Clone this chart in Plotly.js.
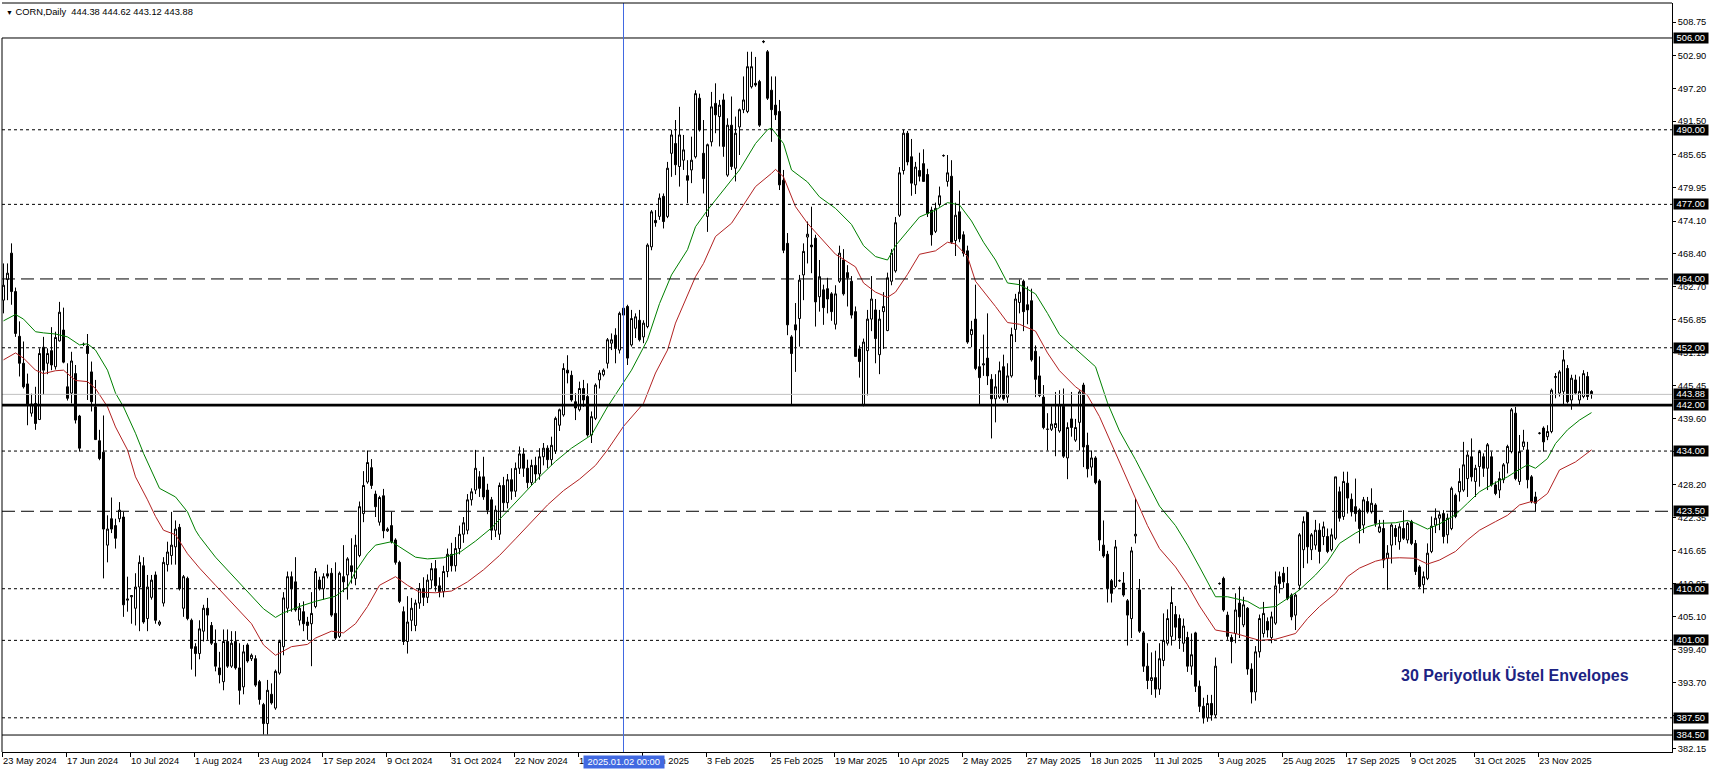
<!DOCTYPE html>
<html><head><meta charset="utf-8">
<script src="https://cdn.plot.ly/plotly-3.0.1.min.js"></script>
<style>html,body{margin:0;padding:0;background:#fff;}#chart{width:1712px;height:773px;}</style>
</head><body><div id="chart"></div>
<script>
// ---- data ----
const dateLabels = ["23 May 2024","17 Jun 2024","10 Jul 2024","1 Aug 2024","23 Aug 2024","17 Sep 2024","9 Oct 2024","31 Oct 2024","22 Nov 2024","16 Dec 2024","9 Jan 2025","3 Feb 2025","25 Feb 2025","19 Mar 2025","10 Apr 2025","2 May 2025","27 May 2025","18 Jun 2025","11 Jul 2025","3 Aug 2025","25 Aug 2025","17 Sep 2025","9 Oct 2025","31 Oct 2025","23 Nov 2025"];

const openP = [
460.3,463.9,468.5,461.8,454.0,449.3,445.7,440.6,442.3,439.5,
452.1,449.3,451.5,448.7,453.2,455.1,445.2,444.1,447.5,440.1,
452.6,452.3,447.8,441.7,435.8,433.8,417.6,422.2,421.0,422.2,
422.5,408.0,408.6,406.6,410.3,414.0,404.8,408.5,412.4,403.8,
407.5,414.2,415.8,417.3,420.7,406.6,411.8,404.5,399.9,398.7,
402.6,406.6,403.6,400.5,396.2,393.8,400.8,396.5,400.8,396.2,
392.9,400.2,397.8,397.8,393.8,389.8,386.5,391.6,389.2,395.3,
399.9,406.6,412.1,411.2,404.5,406.0,404.2,403.9,406.9,411.5,
410.0,412.6,412.7,405.7,401.7,412.1,412.4,414.0,411.8,415.8,
423.1,428.6,431.1,426.5,421.6,426.2,420.1,421.0,418.5,414.6,
406.0,400.8,404.5,403.6,407.5,410.0,408.5,411.5,413.5,410.5,
409.5,413.0,416.0,414.0,417.0,419.5,420.2,425.5,427.2,429.5,
429.5,427.2,425.5,420.2,419.5,428.0,425.0,429.0,427.0,431.0,
433.5,431.0,428.5,431.5,430.0,433.0,434.5,432.5,434.0,438.5,
440.3,448.1,447.2,442.6,441.2,444.9,443.5,436.8,439.7,446.4,
447.3,449.3,452.8,454.2,451.6,457.7,459.2,452.5,455.4,456.8,
453.9,455.7,469.6,474.2,474.9,478.4,474.9,485.9,487.6,483.6,
484.7,482.0,483.0,485.3,495.5,485.9,474.9,487.9,494.6,492.3,
495.2,482.1,490.8,483.3,490.5,493.5,493.2,497.5,498.1,498.4,
505.3,503.6,496.9,494.3,493.2,481.2,470.2,453.9,456.0,457.1,
464.7,471.3,469.9,471.1,460.9,462.1,462.3,461.4,456.1,463.6,
467.3,465.1,463.6,458.3,451.8,442.1,451.5,457.0,458.6,450.8,
458.3,455.0,463.6,465.4,475.1,482.9,489.4,485.3,480.4,482.9,
484.1,482.2,476.0,472.3,477.0,485.5,481.0,481.9,470.7,475.7,
471.7,468.9,454.3,457.0,448.7,449.0,450.2,446.5,443.1,443.4,
448.7,443.4,447.1,455.2,459.9,463.6,459.5,460.2,451.4,447.1,
443.4,437.8,437.8,438.1,437.5,441.8,432.8,439.6,435.9,439.0,
445.5,435.0,431.2,432.8,428.8,417.6,416.0,411.4,410.4,411.4,
411.0,407.9,404.8,419.2,409.8,402.3,396.5,394.0,394.5,392.5,
397.5,400.5,401.7,405.5,404.8,400.5,401.5,396.5,402.3,393.0,
389.5,387.5,390.0,388.0,410.9,411.8,405.4,401.5,402.2,407.5,
403.7,406.6,396.0,392.0,399.0,402.2,404.3,401.5,404.0,412.1,
412.7,410.9,408.9,405.4,410.6,416.8,423.3,416.8,417.6,420.2,
419.1,419.1,416.8,418.8,426.9,422.6,428.4,425.6,424.3,423.7,
421.1,425.2,423.4,424.6,419.9,420.5,415.3,417.6,420.5,418.2,
420.5,418.5,421.7,417.9,413.8,410.7,411.8,416.5,421.1,422.3,
423.1,419.4,420.5,426.3,426.9,427.2,429.2,433.0,428.7,431.3,
433.0,431.0,433.0,428.1,427.2,429.0,431.9,433.9,440.6,428.7,
434.8,434.2,429.5,426.0,437.1,438.0,436.5,437.4,446.8,444.1,
444.4,448.4,442.9,446.4,442.9,443.5,447.0,444.38];

const highP = [
466.7,466.7,470.2,462.5,456.6,453.1,447.5,444.0,445.2,451.9,
453.9,451.9,455.6,454.8,460.0,459.0,449.3,451.3,449.0,440.3,
452.9,454.4,449.6,446.4,437.7,440.2,422.8,425.9,422.2,425.1,
423.4,412.1,408.9,412.7,415.8,415.5,412.4,412.4,413.0,404.5,
415.5,418.2,423.4,421.9,421.3,412.4,412.1,404.8,400.5,404.5,
407.2,408.4,404.2,402.9,399.0,402.9,402.9,402.6,402.6,400.5,
400.2,400.5,398.7,398.4,394.1,390.1,394.1,393.5,395.9,401.1,
409.4,413.0,413.0,415.5,407.5,407.8,405.1,409.4,413.6,412.1,
412.7,414.2,413.6,414.6,413.0,417.6,415.5,418.8,419.4,425.2,
430.5,434.1,432.6,427.1,426.2,427.4,420.7,423.4,418.8,414.9,
406.9,408.7,408.4,408.1,411.0,412.0,412.5,414.5,415.0,412.0,
414.0,417.0,418.0,419.0,421.0,422.5,426.5,427.5,434.2,430.5,
433.0,428.3,426.0,424.5,428.5,429.5,430.0,431.0,432.0,434.8,
434.5,432.5,432.5,433.0,434.5,435.4,435.0,436.5,440.0,441.4,
449.3,450.7,448.0,444.1,446.1,446.4,445.8,440.9,445.8,448.1,
448.4,453.7,454.5,455.4,458.3,459.2,459.5,458.6,458.0,458.6,
456.8,470.2,476.0,476.0,478.9,478.9,484.4,490.0,491.7,494.0,
489.1,484.7,488.8,496.9,496.3,491.7,487.6,496.6,498.1,495.2,
496.3,492.0,495.8,492.3,493.7,499.3,503.6,503.6,502.7,498.7,
505.6,503.9,499.3,499.3,495.2,483.0,472.0,454.2,459.8,464.7,
470.2,474.0,476.6,471.7,467.3,463.0,464.2,461.7,462.9,469.8,
469.2,466.4,464.5,459.2,452.4,453.6,458.6,464.5,460.5,458.6,
461.7,465.1,469.2,474.8,483.5,490.0,489.8,488.4,484.4,486.0,
486.6,483.2,476.6,477.3,480.1,485.7,485.6,484.7,477.3,479.4,
472.3,469.8,456.7,463.0,451.8,454.3,458.0,447.4,447.4,449.6,
450.8,449.3,455.5,461.4,463.9,463.9,462.7,462.3,452.4,450.5,
445.5,440.6,441.8,444.3,444.6,444.9,439.0,444.3,439.6,444.6,
445.9,437.2,434.1,433.1,429.1,421.9,416.6,411.7,418.5,411.6,
412.9,408.2,417.3,425.7,411.7,402.6,400.5,398.9,399.2,400.5,
405.7,406.4,410.4,407.0,405.5,404.8,402.5,402.2,402.5,394.0,
391.0,391.5,391.5,398.0,411.1,412.1,406.0,402.0,409.2,410.4,
408.6,406.8,397.0,400.0,405.5,407.7,405.0,406.0,413.0,413.0,
413.8,413.8,409.2,409.2,419.7,422.6,423.4,419.7,422.0,421.4,
421.7,420.5,420.5,429.5,427.8,430.4,430.4,426.6,429.2,424.0,
426.0,426.0,427.5,424.9,422.0,422.0,417.6,421.4,421.1,421.4,
423.7,421.7,422.0,418.5,414.1,413.0,417.9,422.6,424.0,423.4,
423.7,423.1,427.8,426.6,431.0,435.6,433.9,436.2,431.6,434.2,
433.6,435.4,433.9,428.7,430.4,431.9,435.1,441.5,441.7,436.8,
437.7,435.6,429.8,426.9,437.3,438.3,438.5,444.9,447.6,448.1,
451.6,449.0,447.3,447.3,447.0,448.1,447.8,444.62];

const lowP = [
458.0,460.3,459.5,453.9,447.0,444.9,438.5,440.0,437.7,439.4,
443.8,447.4,448.1,448.2,453.1,449.3,442.8,442.3,438.8,433.9,
452.3,442.9,440.9,436.0,432.4,411.8,414.6,419.7,417.0,421.6,
405.1,406.0,403.9,403.6,402.6,403.9,402.6,408.1,403.9,403.5,
406.9,413.0,414.2,414.2,409.7,405.1,404.5,395.9,394.7,397.7,
400.8,401.1,400.2,395.6,393.5,392.3,396.2,396.2,395.9,389.8,
391.6,397.1,397.4,392.9,389.8,384.6,384.6,389.8,388.9,395.0,
398.4,405.8,406.0,406.0,403.6,402.6,401.1,396.5,406.6,409.7,
408.1,411.8,405.1,401.1,401.4,409.4,408.1,410.9,410.6,415.5,
421.6,428.3,427.4,422.5,421.0,418.8,419.9,417.9,414.2,407.5,
400.2,398.7,402.6,402.6,406.5,407.0,407.5,410.0,409.5,408.5,
408.5,412.0,413.0,413.0,416.0,418.0,419.5,424.5,426.5,426.0,
425.5,423.0,418.5,419.0,418.5,423.5,424.0,425.5,426.0,430.0,
429.5,427.5,428.0,428.5,429.0,431.5,431.0,431.5,433.5,437.5,
440.0,445.8,442.6,439.4,440.9,441.7,436.5,435.4,439.4,444.9,
447.0,448.4,451.6,449.3,451.0,457.4,449.0,452.2,453.7,453.1,
452.8,455.4,469.0,473.1,474.3,472.8,474.6,481.8,482.1,480.1,
483.0,477.2,480.7,485.0,489.7,478.9,472.2,487.1,489.4,487.1,
485.3,481.8,483.0,481.0,485.6,492.9,492.9,497.2,497.5,490.5,
505.1,495.2,487.9,491.7,479.5,468.5,454.2,442.0,447.8,452.2,
460.3,466.7,465.0,455.7,458.3,456.0,458.0,456.7,455.2,463.3,
461.1,459.2,457.1,450.5,446.8,441.8,443.7,454.9,449.3,447.4,
451.8,454.9,462.9,465.1,474.8,482.2,483.8,478.5,478.8,481.0,
481.0,474.8,469.8,472.0,476.6,485.3,480.1,470.1,468.0,470.4,
467.9,452.7,452.1,448.1,442.1,447.1,445.5,436.2,439.0,443.1,
442.8,442.4,446.8,453.0,458.0,454.9,456.1,449.6,443.4,443.4,
437.8,434.1,437.5,433.1,437.2,432.8,429.1,436.5,435.6,434.1,
431.2,429.4,429.7,428.2,416.6,415.4,407.6,407.6,410.1,411.2,
408.6,400.1,401.4,417.9,402.3,395.5,392.5,391.5,391.0,391.5,
396.5,400.1,400.1,401.0,399.5,399.0,395.5,395.0,392.0,388.5,
386.5,386.8,387.0,387.5,410.7,406.0,401.1,397.0,400.5,401.4,
403.3,395.0,390.0,390.5,398.0,401.5,401.5,400.5,403.7,409.2,
410.1,408.0,404.5,402.8,409.8,413.6,414.4,415.0,416.8,414.4,
417.6,416.2,416.5,418.5,421.7,422.0,423.1,422.6,421.7,417.9,
419.7,423.1,423.1,420.8,419.7,413.6,409.8,414.4,417.6,416.8,
418.5,417.9,417.6,412.4,410.1,409.2,411.5,416.2,419.7,420.2,
417.9,417.9,420.2,422.3,425.2,426.9,426.0,428.7,426.0,427.8,
429.5,427.2,427.8,426.3,425.8,428.4,430.1,433.6,428.9,428.1,
434.2,427.5,424.9,423.4,436.9,433.9,435.9,437.1,443.2,443.5,
442.0,442.3,441.2,443.8,442.0,443.2,442.9,443.12];

const closeP = [
462.9,465.0,461.8,454.5,449.3,445.2,442.0,442.2,438.8,451.0,
448.1,451.0,449.0,453.8,458.2,449.5,443.2,449.7,439.4,434.5,
452.6,451.0,442.6,436.0,432.7,420.4,420.4,420.4,418.8,423.7,
407.2,408.2,408.8,410.3,414.6,404.2,410.3,411.5,404.5,404.2,
414.6,416.4,417.6,420.4,410.0,412.1,404.8,399.6,398.7,403.0,
406.6,405.4,400.5,396.5,395.0,400.8,396.5,400.5,396.2,392.3,
399.0,397.4,398.4,393.2,390.7,386.5,392.3,390.1,395.6,400.8,
408.4,412.1,410.0,406.3,406.6,403.9,403.6,405.7,413.0,410.0,
412.1,412.2,405.4,401.4,412.7,411.2,415.2,413.0,417.6,424.3,
428.0,432.0,428.0,424.3,425.9,420.1,420.4,418.2,414.6,407.8,
400.8,404.2,406.6,407.5,410.0,408.5,411.5,413.5,410.5,409.5,
413.0,416.0,414.0,417.0,419.5,421.5,425.5,426.9,431.0,427.5,
426.0,423.7,420.2,423.7,428.0,425.0,429.0,427.0,431.0,433.5,
431.0,428.5,431.5,430.0,433.0,434.5,432.5,435.0,439.7,441.2,
448.4,447.6,442.9,441.5,444.9,442.9,436.8,440.0,445.5,447.6,
448.1,453.4,453.4,451.9,458.0,458.9,450.2,457.1,457.4,453.4,
456.3,469.9,475.7,473.8,478.1,474.0,483.3,489.1,483.9,489.1,
486.5,481.2,484.7,496.3,490.0,481.5,487.4,494.0,492.6,494.3,
487.1,490.8,483.6,489.4,493.5,495.2,501.0,501.0,497.8,490.8,
505.4,495.5,493.5,492.6,480.4,469.0,456.0,451.0,455.1,463.8,
468.8,471.8,469.6,460.0,464.4,459.0,460.5,458.3,461.4,468.5,
461.4,464.2,457.7,450.5,449.6,453.0,457.0,460.5,453.6,457.0,
459.2,464.2,468.5,473.8,482.5,489.4,484.4,480.7,483.5,481.9,
481.0,475.4,471.7,476.3,478.5,485.5,482.5,470.4,475.1,471.0,
468.5,453.0,455.2,448.4,446.8,449.2,447.1,443.1,445.2,448.0,
443.1,447.1,454.3,460.5,461.7,458.3,458.6,449.9,446.5,443.7,
438.1,437.8,438.7,438.8,442.1,433.1,438.1,438.1,438.1,444.3,
434.7,430.9,432.8,428.5,418.5,415.7,410.1,409.2,417.3,411.4,
408.9,405.4,416.6,419.5,402.6,396.5,394.0,394.5,392.5,397.8,
401.0,404.8,407.6,403.3,401.4,403.5,396.5,398.5,393.0,389.5,
387.5,390.0,388.0,396.5,410.9,406.3,401.7,400.8,406.3,405.1,
407.2,396.0,392.0,399.0,404.8,405.7,402.8,405.1,410.5,410.9,
411.2,408.3,405.1,408.9,419.4,421.7,417.3,419.4,420.2,416.5,
420.8,416.5,419.4,429.5,422.3,428.7,425.8,423.4,423.1,420.5,
425.5,423.4,424.9,421.4,420.8,415.0,416.2,421.1,419.1,420.8,
418.8,421.4,417.9,413.0,410.4,412.1,416.2,420.9,422.3,422.9,
419.1,422.3,427.5,422.6,428.7,431.6,433.3,429.5,431.0,433.9,
431.0,435.1,428.1,426.6,429.2,431.6,434.8,441.2,429.2,433.9,
435.6,429.0,425.2,424.9,437.1,435.6,437.4,444.6,447.0,447.8,
449.9,442.6,446.7,444.1,444.4,447.5,443.5,443.88];

// upper / lower envelope (30-period exponential), read at sample bars
const upperBar = [0,3,5,8,10,13,16,19,21,23,26,28,30,33,35,39,43,46,48,49,53,58,62,65,68,70,74,78,83,86,88,91,93,97,99,103,106,110,114,118,122,126,130,134,138,142,147,151,154,157,161,164,167,171,173,176,180,184,188,191,192,195,197,201,204,208,212,215,218,221,223,226,229,233,236,239,242,245,248,251,254,258,261,264,268,273,276,279,283,286,289,293,296,299,303,306,311,314,318,321,324,328,331,334,338,341,344,348,351,353,356,359,363,366,369,373,376,378,381,383,386,388,391,394,397];
const upperVal = [456.7,457.8,457.0,454.8,454.6,454.4,453.9,452.5,452.7,451.6,448.1,444.1,441.7,437.1,433.6,427.5,426.0,423.4,420.2,419.1,415.5,411.8,408.7,406.5,405.0,405.8,406.9,407.8,408.7,410.3,413.0,416.1,417.6,418.2,417.3,415.5,415.2,415.4,416.3,418.3,420.6,423.5,426.5,429.5,432.2,434.5,436.8,441.7,444.9,448.1,453.4,459.7,464.7,469.1,473.1,476.0,479.5,483.0,487.6,490.0,490.3,487.6,483.0,480.9,478.3,476.3,473.5,469.8,467.9,467.3,469.8,472.3,474.8,476.0,477.3,476.9,474.1,470.4,467.3,463.3,463.0,461.4,458.0,454.3,451.8,448.7,442.4,437.5,432.5,428.5,424.4,421.0,417.6,413.8,408.6,408.6,407.8,406.6,406.9,408.3,409.8,412.4,414.7,417.9,419.7,420.8,421.4,421.5,421.9,421.4,420.4,421.3,422.9,424.9,426.9,428.5,429.5,430.4,431.6,431.0,432.7,435.3,437.7,439.4,440.7];
const lowerBar = [0,3,5,8,10,13,15,18,21,23,26,28,31,33,36,38,40,43,46,49,53,58,62,65,68,72,76,78,82,85,88,91,94,98,101,104,108,112,116,120,124,128,132,136,140,144,148,151,155,160,163,166,168,173,175,178,182,185,188,192,193,195,198,201,204,208,213,215,218,221,223,226,229,233,236,238,241,243,248,251,254,258,261,264,268,271,274,278,283,286,289,293,296,299,303,306,308,311,314,318,323,326,329,333,336,339,343,346,349,353,356,359,363,366,369,373,376,379,382,383,386,389,393,397];
const lowerVal = [449.9,451.1,450.2,448.1,447.5,448.0,448.1,446.3,446.1,444.9,441.7,438.2,434.2,429.5,425.5,422.6,420.2,419.4,416.1,413.6,410.6,406.9,403.9,400.2,398.4,399.9,400.3,401.4,402.6,402.3,403.9,406.9,410.6,412.1,410.6,409.4,409.3,409.6,411.2,413.3,415.8,418.7,421.7,424.6,427.1,429.1,431.5,434.2,438.3,442.3,447.6,451.6,456.3,464.4,466.7,471.4,473.7,476.9,480.1,482.4,483.1,481.8,476.6,473.7,471.4,468.3,466.1,463.3,461.7,460.8,461.7,464.8,468.3,468.9,470.4,470.1,467.9,463.6,459.2,456.4,456.1,454.9,451.1,448.0,445.2,443.7,440.0,433.7,426.0,421.0,417.0,413.8,410.7,407.0,402.8,402.5,402.2,401.6,401.0,401.2,402.2,404.8,406.9,409.2,412.1,413.6,414.8,415.3,415.4,415.3,414.3,415.0,416.5,418.5,420.2,421.7,422.8,424.6,425.2,425.0,426.6,430.7,432.1,434.2];

const priceTicks = [508.75,502.90,497.20,491.50,485.65,479.95,474.10,468.40,462.70,456.85,451.15,445.45,439.60,433.90,428.20,422.35,416.65,410.95,405.10,399.40,393.70,387.90,382.15];
const levelPrices = [506.00,490.00,477.00,464.00,452.00,443.88,442.00,434.00,423.50,410.00,401.00,387.50,384.50];
const levelKinds  = ["solid","dot","dot","dash","dot","last","bold","dot","dash","dot","dot","dot","solid"];
const markerBar = 155;
const markerText = "2025.01.02 00:00";
const symbolText = "CORN,Daily";
const lastOHLC = [444.38, 444.62, 443.12, 443.88];
const noteText = "30 Periyotluk Üstel Envelopes";

// ---- drawing ----
const FONT = "Liberation Sans, Arial, sans-serif";
const barIdx = openP.map((_, i) => i);
const kindStyle = {
  solid: {color: "#000000", width: 1, dash: "solid"},
  dot:   {color: "#000000", width: 1, dash: "dot"},
  dash:  {color: "#000000", width: 1, dash: "13px,6px"},
  last:  {color: "#c0c0c0", width: 1, dash: "solid"},
  bold:  {color: "#000000", width: 2.6, dash: "solid"}
};

const traces = [
  {type: "candlestick", x: barIdx, open: openP, high: highP, low: lowP, close: closeP,
   increasing: {line: {color: "#000000", width: 1}, fillcolor: "#ffffff"},
   decreasing: {line: {color: "#000000", width: 1}, fillcolor: "#000000"},
   whiskerwidth: 0, hoverinfo: "skip", showlegend: false},
  {type: "scatter", mode: "lines", x: upperBar, y: upperVal,
   line: {color: "#008000", width: 1}, hoverinfo: "skip", showlegend: false},
  {type: "scatter", mode: "lines", x: lowerBar, y: lowerVal,
   line: {color: "#b22222", width: 1}, hoverinfo: "skip", showlegend: false}
];

const shapes = levelPrices.map((p, i) => ({
  type: "line", xref: "paper", x0: 0, x1: 1, yref: "y", y0: p, y1: p,
  line: kindStyle[levelKinds[i]], layer: "above"
}));
shapes.push({type: "line", xref: "x", x0: markerBar, x1: markerBar, yref: "paper", y0: 0, y1: 1,
  line: {color: "#4169e1", width: 1}, layer: "above"});
shapes.push({type: "line", xref: "paper", x0: 0, x1: 0, yref: "y", y0: 381.54, y1: 506,
  line: {color: "#000", width: 1}});
shapes.push({type: "line", xref: "paper", x0: 0, x1: 1, yref: "paper", y0: 1, y1: 1,
  line: {color: "#000", width: 1}});

const annotations = levelPrices.map(p => ({
  xref: "paper", x: 1, xanchor: "left", xshift: 1,
  yref: "y", y: p, yanchor: "middle",
  text: "\u00a0" + p.toFixed(2) + "\u00a0", showarrow: false,
  bgcolor: "#000000", borderpad: 0,
  font: {family: FONT, size: 9.3, color: "#ffffff"}
}));
annotations.push({
  xref: "x", x: markerBar, xanchor: "center", yref: "paper", y: 0, yanchor: "top", yshift: -3,
  text: "\u00a0" + markerText + "\u00a0", showarrow: false, bgcolor: "#4169e1", borderpad: 1,
  font: {family: FONT, size: 9.3, color: "#ffffff"}
});
annotations.push({
  xref: "paper", x: 0, xanchor: "left", xshift: 2, yref: "paper", y: 1, yanchor: "top", yshift: -2,
  text: "<span style='font-size:7px'>▼</span>\u00a0" + symbolText + "\u00a0\u00a0" + lastOHLC.map(v => v.toFixed(2)).join("\u00a0"),
  showarrow: false, font: {family: FONT, size: 9.3, color: "#000000"}
});
annotations.push({
  xref: "paper", x: 0.9755, xanchor: "right", yref: "y", y: 394.97, yanchor: "middle",
  text: "<b>" + noteText + "</b>", showarrow: false,
  font: {family: FONT, size: 16, color: "#1c2383"}
});

const layout = {
  width: 1712, height: 773, autosize: false,
  margin: {l: 2, r: 40, t: 3, b: 21, pad: 0},
  paper_bgcolor: "#ffffff", plot_bgcolor: "#ffffff",
  showlegend: false, hovermode: false,
  boxgap: 0.5, boxgroupgap: 0,
  font: {family: FONT, size: 9.3, color: "#000000"},
  xaxis: {
    type: "linear", range: [-0.375, 417.125], fixedrange: true,
    showgrid: false, zeroline: false, showline: true, linecolor: "#000", linewidth: 1,
    ticks: "outside", ticklen: 4, tickcolor: "#000", tickwidth: 1,
    tickvals: dateLabels.map((_, k) => k * 16 - 0.37), ticktext: dateLabels,
    ticklabelposition: "outside right",
    tickfont: {family: FONT, size: 9.3, color: "#000"},
    rangeslider: {visible: false}
  },
  yaxis: {
    side: "right", range: [381.54, 512.10], fixedrange: true,
    showgrid: false, zeroline: false, showline: true, linecolor: "#000", linewidth: 1,
    ticks: "outside", ticklen: 3, tickcolor: "#000", tickwidth: 1,
    tickvals: priceTicks, ticktext: priceTicks.map(v => v.toFixed(2)),
    tickfont: {family: FONT, size: 9.3, color: "#000"}
  },
  shapes: shapes,
  annotations: annotations
};

Plotly.newPlot("chart", traces, layout, {staticPlot: true, displayModeBar: false});
</script>
</body></html>
